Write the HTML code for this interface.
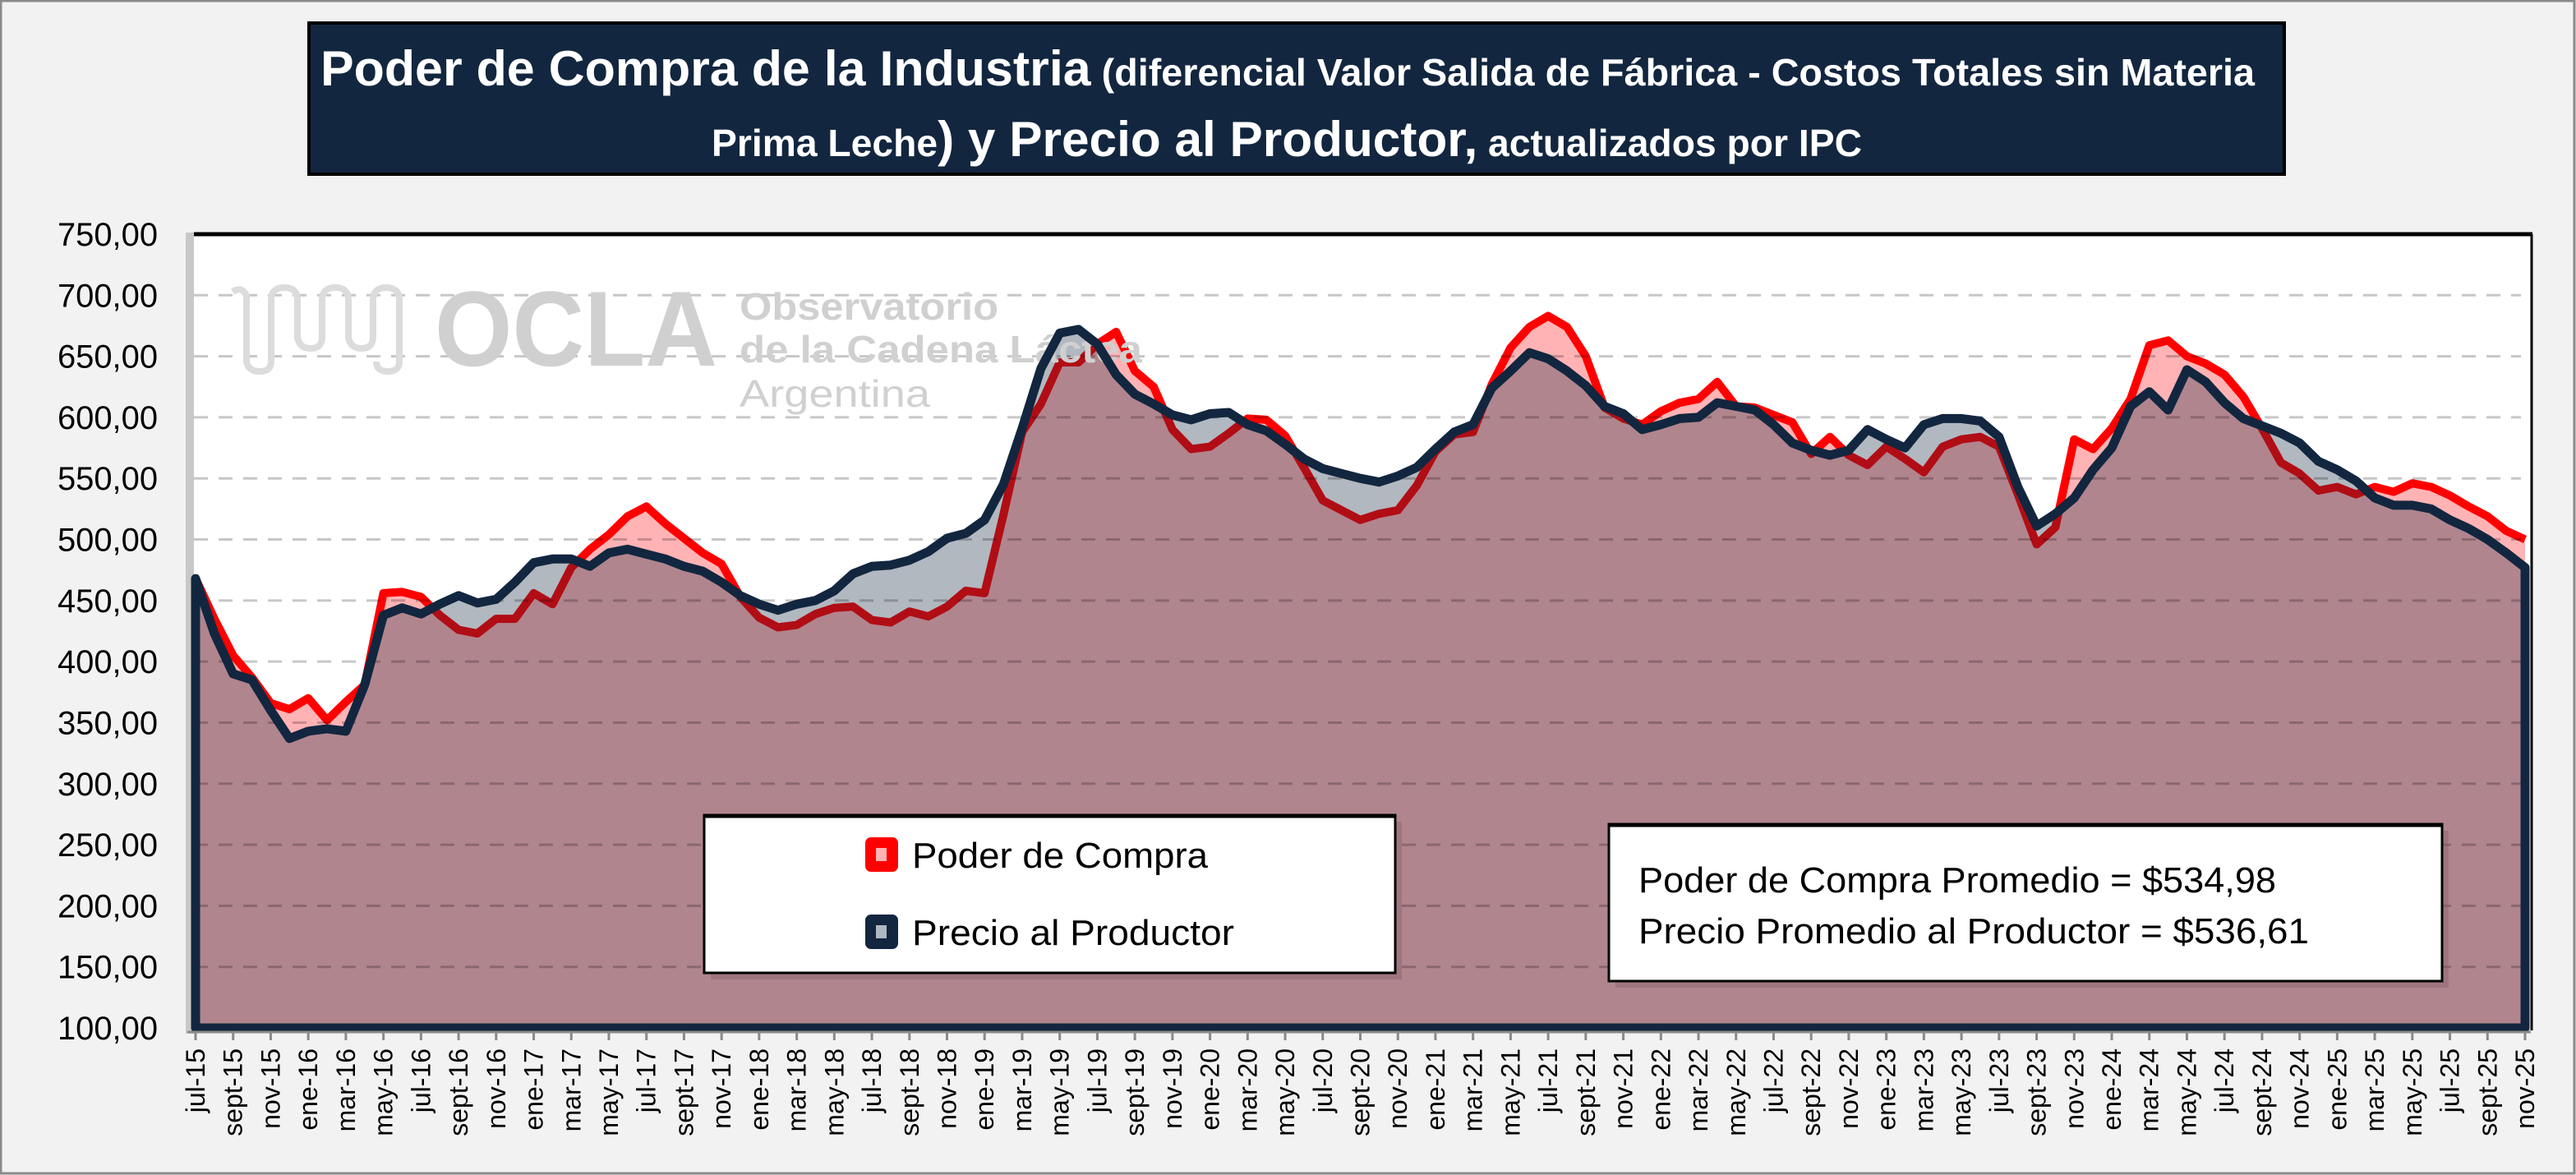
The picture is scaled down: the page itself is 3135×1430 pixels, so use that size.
<!DOCTYPE html>
<html><head><meta charset="utf-8">
<style>
html,body{margin:0;padding:0;background:#f2f2f2;}
svg{display:block;font-family:"Liberation Sans",sans-serif;}
</style></head>
<body>
<svg id="chart" width="3135" height="1430" viewBox="0 0 3135 1430" xmlns="http://www.w3.org/2000/svg">
  <rect x="1" y="1" width="3132" height="1427" fill="#f2f2f2" stroke="#8a8a8a" stroke-width="3"/>
  <g>
    <rect x="376" y="28" width="2404" height="184" fill="#12263f" stroke="#000" stroke-width="4"/>
    <text x="390" y="104" fill="#fff" font-weight="bold" textLength="2354" lengthAdjust="spacingAndGlyphs"><tspan font-size="60">Poder de Compra de la Industria</tspan><tspan font-size="46"> (diferencial Valor Salida de Fábrica - Costos Totales sin Materia</tspan></text>
    <text x="866" y="190" fill="#fff" font-weight="bold" textLength="1400" lengthAdjust="spacingAndGlyphs"><tspan font-size="46">Prima Leche</tspan><tspan font-size="60">) y Precio al Productor,</tspan><tspan font-size="46"> actualizados por IPC</tspan></text>
  </g>
  <rect x="226" y="283" width="12" height="975" fill="#c8c8c8"/>
  <rect x="236" y="285" width="2844" height="967" fill="#fff"/>
  <g id="fills"></g>
  <g id="grid"></g>
  <g id="watermark" fill="#d0d0d0">
    <path d="M283 355 Q295 348 300 360 L300 440 Q302 452 316 452 Q330 452 330 440 L330 365 Q330 350 346 350 Q362 350 362 365 L362 410 Q364 424 378 424 Q392 424 392 410 L392 365 Q392 350 408 350 Q424 350 424 365 L424 410 Q426 424 440 424 Q454 424 454 410 L454 365 Q454 350 470 350 Q486 350 486 365 L486 440 Q486 452 472 452 Q458 452 458 440" fill="none" stroke="#dcdcdc" stroke-width="8"/>
    <text x="529" y="445" font-size="130" font-weight="bold" textLength="344" lengthAdjust="spacingAndGlyphs">OCLA</text>
    <text x="900" y="389" font-size="46" font-weight="bold" textLength="315" lengthAdjust="spacingAndGlyphs">Observatorio</text>
    <text x="900" y="441" font-size="46" font-weight="bold" textLength="490" lengthAdjust="spacingAndGlyphs">de la Cadena Láctea</text>
    <text x="900" y="495" font-size="46" textLength="232" lengthAdjust="spacingAndGlyphs">Argentina</text>
  </g>
  <g id="lines"></g>
  <line x1="236" y1="285" x2="3082" y2="285" stroke="#000" stroke-width="5"/>
  <line x1="3081" y1="285" x2="3081" y2="1254" stroke="#000" stroke-width="3"/>
  <g id="yaxis"></g>
  <g id="xaxis"></g>
  <g>
    <rect x="865" y="1000" width="841" height="192" fill="#7a5a60" opacity="0.35"/>
    <rect x="857" y="992" width="841" height="192" fill="#fff" stroke="#000" stroke-width="3"/>
    <line x1="857" y1="993" x2="1698" y2="993" stroke="#000" stroke-width="5"/>
    <g>
      <rect x="1053" y="1019" width="40" height="42" rx="7" fill="#ff0000"/>
      <rect x="1066" y="1032" width="13" height="16" fill="#ffb3b5"/>
      <text x="1110" y="1056" font-size="44" fill="#000" textLength="360" lengthAdjust="spacingAndGlyphs">Poder de Compra</text>
    </g>
    <g>
      <rect x="1053" y="1113" width="40" height="42" rx="7" fill="#12263f"/>
      <rect x="1066" y="1126" width="13" height="16" fill="#b0b8c1"/>
      <text x="1110" y="1150" font-size="44" fill="#000" textLength="392" lengthAdjust="spacingAndGlyphs">Precio al Productor</text>
    </g>
  </g>
  <g>
    <rect x="1966" y="1011" width="1014" height="191" fill="#7a5a60" opacity="0.35"/>
    <rect x="1958" y="1003" width="1014" height="191" fill="#fff" stroke="#000" stroke-width="3"/>
    <line x1="1958" y1="1004" x2="2972" y2="1004" stroke="#000" stroke-width="5"/>
    <text x="1994" y="1086" font-size="44" fill="#000" textLength="776" lengthAdjust="spacingAndGlyphs">Poder de Compra Promedio = $534,98</text>
    <text x="1994" y="1148" font-size="44" fill="#000" textLength="816" lengthAdjust="spacingAndGlyphs">Precio Promedio al Productor = $536,61</text>
  </g>
</svg>
<script>
const months = ["jul","ago","sept","oct","nov","dic","ene","feb","mar","abr","may","jun"];
const startYear = 15;
const poderCompra = [468,435,405,387,366,361,370,352,367,381,
456,457,453,438,426,423,435,435,456,447,
477,492,504,519,527,513,501,489,480,453,
436,428,430,439,444,445,434,432,441,437,
445,458,456,520,588,611,645,645,660,670,
638,625,590,574,576,587,599,598,585,559,
532,524,516,521,524,544,572,586,588,627,
657,674,683,674,650,608,599,594,605,612,
615,629,609,608,602,596,570,584,569,561,
576,566,555,576,582,584,576,537,496,510,
582,574,591,615,659,663,650,644,635,617,
591,563,554,540,543,537,543,539,546,543,
536,527,519,507,500];
const precioProductor = [468,423,390,385,360,337,343,345,343,381,
438,444,439,447,454,448,451,465,481,484,
484,478,489,492,488,484,478,474,465,454,
447,442,447,450,458,472,478,479,483,490,
501,505,516,545,591,640,669,672,660,635,
619,611,602,598,603,604,594,589,578,566,
558,554,550,547,552,559,574,588,594,624,
638,653,648,638,626,609,603,590,594,599,
600,612,609,606,594,579,573,569,573,590,
582,575,594,599,599,597,584,543,511,521,
534,557,575,609,621,606,639,629,612,599,
593,587,579,564,557,548,534,528,528,525,
516,509,500,489,477];
const yTicks = [100,150,200,250,300,350,400,450,500,550,600,650,700,750];

const NS = "http://www.w3.org/2000/svg";
const X0 = 238, X1 = 3073, Y0 = 1251, Y1 = 285, VMIN = 100, VMAX = 750;
const n = poderCompra.length;
function xs(i){ return X0 + i * (X1 - X0) / (n - 1); }
function ys(v){ return Y0 - (v - VMIN) * (Y0 - Y1) / (VMAX - VMIN); }
function mk(tag, attrs, parent){ const e = document.createElementNS(NS, tag); for (const k in attrs) e.setAttribute(k, attrs[k]); parent.appendChild(e); return e; }
function areaPath(arr){
  let d = "M" + xs(0) + " " + ys(VMIN);
  arr.forEach((v,i)=>{ d += " L" + xs(i).toFixed(1) + " " + ys(v).toFixed(1); });
  d += " L" + xs(arr.length-1) + " " + ys(VMIN) + " Z";
  return d;
}
function linePath(arr){
  return arr.map((v,i)=>(i?"L":"M") + xs(i).toFixed(1) + " " + ys(v).toFixed(1)).join(" ");
}
const fills = document.getElementById("fills");
const lines = document.getElementById("lines");
const grid = document.getElementById("grid");

const redArea = mk("path", {d: areaPath(poderCompra), fill: "#ffb3b5"}, fills);


const redLine = mk("path", {d: linePath(poderCompra), fill: "none", stroke: "#ff0000", "stroke-width": 10, "stroke-linejoin": "round"}, fills);


const navyArea = mk("path", {d: areaPath(precioProductor), fill: "#12263f", "fill-opacity": 0.33}, fills);



yTicks.forEach(v=>{
  if (v > VMIN && v < VMAX) {
    const g = mk("line", {x1: 236, x2: 3068, y1: ys(v), y2: ys(v), stroke: "#000", "stroke-opacity": 0.22, "stroke-width": 3, "stroke-dasharray": "17 13"}, grid);
    
    
  }
});

const navyLine = mk("path", {d: areaPath(precioProductor), fill: "none", stroke: "#12263f", "stroke-width": 11, "stroke-linejoin": "round"}, lines);



const yaxis = document.getElementById("yaxis");
yTicks.forEach(v=>{
  const t = mk("text", {x: 192, y: ys(v) + 14, "font-size": 40, "text-anchor": "end", fill: "#000", textLength: 122, lengthAdjust: "spacingAndGlyphs"}, yaxis);
  t.textContent = v.toFixed(2).replace(".", ",");
  
  
});

const xaxis = document.getElementById("xaxis");
const ax = mk("line", {x1: 228, x2: 3080, y1: 1256, y2: 1256, stroke: "#8a8a8a", "stroke-width": 3}, xaxis);


for (let i = 0; i < n; i += 2) {
  const m = months[i % 12];
  const yr = startYear + Math.floor((i + 6) / 12);
  const x = xs(i);
  const tk = mk("line", {x1: x, x2: x, y1: 1256, y2: 1266, stroke: "#8a8a8a", "stroke-width": 3}, xaxis);
  
  
  const t = mk("text", {x: 0, y: 0, "font-size": 32, "text-anchor": "end", fill: "#000", transform: "translate(" + (x + 11) + ",1276) rotate(-90)"}, xaxis);
  t.textContent = m + "-" + yr;
  
  
}
</script>
</body></html>
